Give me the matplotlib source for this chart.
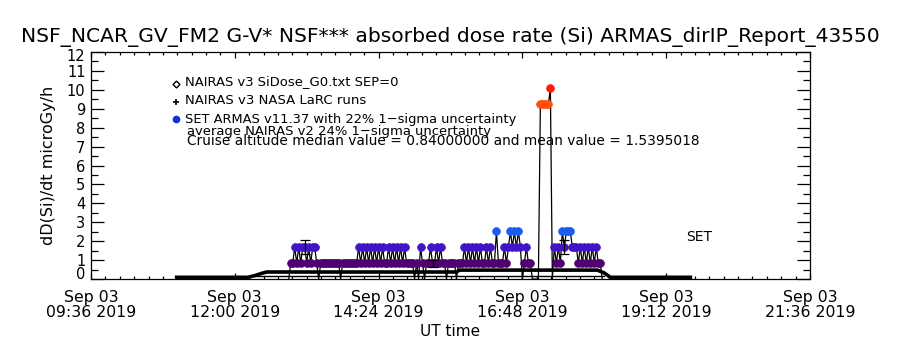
import matplotlib
matplotlib.use("Agg")
import matplotlib.pyplot as plt
from matplotlib.transforms import ScaledTranslation
from datetime import datetime, timedelta

# ---------------- data ----------------
title = "NSF_NCAR_GV_FM2 G-V* NSF*** absorbed dose rate (Si) ARMAS_dirIP_Report_43550"
x_start = "2019-09-03 09:36"
x_end = "2019-09-03 21:36"
xtick_times = ["09:36", "12:00", "14:24", "16:48", "19:12", "21:36"]
ytick_values = [0, 1, 2, 3, 4, 5, 6, 7, 8, 9, 10, 11, 12]

# ARMAS samples: first sample time and cadence (minutes)
armas_first = "2019-09-03 12:54"
armas_cadence_min = 2
armas_values = [
    0, 0.84, 0.84, 1.68, 0.84, 1.68, 0.84, 1.68, 1.68, 0.84,
    1.68, 0.84, 1.68, 1.68, 0.84, 0, 0.84, 0.84, 0.84, 0.84,
    0.84, 0.84, 0.84, 0.84, 0.84, 0.84, 0, 0.84, 0.84, 0.84,
    0.84, 0.84, 0.84, 0.84, 0.84, 1.68, 0.84, 1.68, 0.84, 1.68,
    0.84, 1.68, 0.84, 1.68, 0.84, 1.68, 0.84, 1.68, 0.84, 0.84,
    1.68, 0.84, 1.68, 0.84, 1.68, 0.84, 1.68, 0.84, 1.68, 0.84,
    0.84, 0.84, 0.84, 0, 0.84, 0, 1.68, 0.84, 0, 0.84,
    0.84, 1.68, 0.84, 0.84, 1.68, 0.84, 1.68, 0.84, 0.84, 0,
    0.84, 0.84, 0.84, 0.84, 0, 0.84, 0.84, 0.84, 1.68, 0.84,
    1.68, 0.84, 1.68, 0.84, 1.68, 0.84, 1.68, 0.84, 0.84, 1.68,
    0.84, 1.68, 0.84, 0.84, 2.52, 0.84, 0.84, 0.84, 1.68, 0.84,
    1.68, 2.52, 1.68, 2.52, 1.68, 2.52, 1.68, 0, 0.84, 1.68,
    0.84, 0.84, 0, 0, 0, 0, 9.24, 9.24, 9.24, 9.24,
    9.24, 10.08, 0, 1.68, 0.84, 1.68, 0.84, 2.52, 1.68, 2.52,
    2.52, 2.52, 1.68, 1.68, 1.68, 0.84, 1.68, 0.84, 1.68, 0.84,
    1.68, 0.84, 1.68, 0.84, 1.68, 0.84, 0.84, 0,
]
armas_levels = [0.84, 1.68, 2.52, 9.24, 10.08]
armas_level_colors = ["#500070", "#4214C8", "#1A5CF0", "#FF5010", "#FF1A00"]

# error bars shown on a few ARMAS points (22% 1-sigma)
err_times = ["13:10", "15:18", "17:30"]
err_values = [1.68, 0.84, 1.68]
err_frac = 0.22

# NAIRAS v3 SiDose_G0 model along the flight
nairas_times = ["11:00", "12:13", "12:20", "12:27", "12:32", "15:42", "15:45",
                "18:03", "18:10", "18:16", "19:38"]
nairas_values = [0.09, 0.09, 0.18, 0.30, 0.37, 0.37, 0.47, 0.47, 0.32, 0.09, 0.09]

# NASA LaRC runs
larc_times = ["12:20", "18:10"]
larc_values = [0.18, 0.18]

legend_lines = [
    "NAIRAS v3 SiDose_G0.txt SEP=0",
    "NAIRAS v3 NASA LaRC runs",
    "SET ARMAS v11.37 with 22% 1\u2212sigma uncertainty",
    "average NAIRAS v2 24% 1\u2212sigma uncertainty",
    "Cruise altitude median value = 0.84000000 and mean value = 1.5395018",
]

# ---------------- helpers ----------------
DAY = "2019-09-03 "
def tt(s):
    return datetime.strptime(DAY + s, "%Y-%m-%d %H:%M")

t0 = datetime.strptime(armas_first, "%Y-%m-%d %H:%M")
armas_t = [t0 + timedelta(minutes=armas_cadence_min * i) for i in range(len(armas_values))]

W, H = 900, 350
fig = plt.figure(figsize=(9, 3.5), dpi=100)
L, R, T, B = 91, 810, 52, 279
ax = fig.add_axes([L / W, 1 - B / H, (R - L) / W, (B - T) / H])

xmin = datetime.strptime(x_start, "%Y-%m-%d %H:%M")
xmax = datetime.strptime(x_end, "%Y-%m-%d %H:%M")
ax.set_xlim(xmin, xmax)
ax.set_ylim(0, 12)

FONT = "DejaVu Sans"

# NAIRAS
ax.plot([tt(s) for s in nairas_times], nairas_values, color="black", lw=2.6,
        solid_capstyle="butt", zorder=2)
ax.plot([tt(s) for s in larc_times], larc_values, color="black", lw=1.0, zorder=2)

# ARMAS line
ax.plot(armas_t, armas_values, color="black", lw=0.9, zorder=3)
for lev, col in zip(armas_levels, armas_level_colors):
    xs = [t for t, v in zip(armas_t, armas_values) if v == lev]
    ys = [v for v in armas_values if v == lev]
    ax.plot(xs, ys, ls="none", marker="o", ms=5.6, mfc=col, mec=col, mew=0.5, zorder=4)

# error bars
ax.errorbar([tt(s) for s in err_times], err_values,
            yerr=[v * err_frac for v in err_values], fmt="none",
            ecolor="black", elinewidth=0.9, capsize=3.5, capthick=0.9, zorder=5)

# axes styling
for sp in ax.spines.values():
    sp.set_linewidth(0.9)
ax.set_yticks(ytick_values)
ax.set_yticks([v + 0.5 for v in ytick_values[:-1]], minor=True)
ax.set_yticklabels([str(v) for v in ytick_values], fontsize=10.5, family=FONT)
xt = [tt(s) for s in xtick_times]
ax.set_xticks(xt)
minor = [xmin + timedelta(minutes=14.4 * i) for i in range(51)]
ax.set_xticks(minor, minor=True)
ax.set_xticklabels(["Sep 03\n" + s + " 2019" for s in xtick_times], fontsize=11.3,
                   family=FONT, linespacing=1.0)
ax.tick_params(axis="y", which="major", direction="in", length=9.4, width=0.9,
               left=True, right=True, pad=4)
ax.tick_params(axis="y", which="minor", direction="in", length=5, width=0.9,
               left=True, right=True)
ax.tick_params(axis="x", which="major", direction="in", length=4.3, width=0.9,
               bottom=True, top=True, pad=8)
ax.tick_params(axis="x", which="minor", direction="in", length=2.2, width=0.9,
               bottom=True, top=True)

ax.set_ylabel("dD(Si)/dt microGy/h", family=FONT, fontsize=11.5, labelpad=8)
ax.set_xlabel("UT time", family=FONT, fontsize=11, labelpad=3)

tt_title = fig.text(450 / W, 1 - 37 / H, title, ha="center", va="center",
                    family=FONT, fontsize=14)

# legend (manual, as in the original)
leg_y = [82, 100, 120, 131, 141]
leg_x = [185, 185, 185, 187, 187]
leg_w = [213, 181, 330, 303, 510]
leg_texts = []
for s, x, y in zip(legend_lines, leg_x, leg_y):
    leg_texts.append(fig.text(x / W, 1 - y / H, s, ha="left", va="center",
                              family=FONT, fontsize=10))
# legend symbols
fig.lines.append(plt.Line2D([176 / W], [1 - 84 / H], transform=fig.transFigure,
                            marker="D", ms=3.5, mfc="white", mec="black", mew=1, ls="none"))
fig.lines.append(plt.Line2D([176 / W], [1 - 102 / H], transform=fig.transFigure,
                            marker="+", ms=5, mec="black", mew=1.2, ls="none"))
fig.lines.append(plt.Line2D([176 / W], [1 - 119 / H], transform=fig.transFigure,
                            marker="o", ms=4.5, mfc="#1030E0", mec="#1030E0", ls="none"))

fig.text(699 / W, 1 - 237 / H, "SET", ha="center", va="center", family=FONT,
         fontsize=10)

# fit text widths to the reference
fig.canvas.draw()
r = fig.canvas.get_renderer()
def fit(t, width_px):
    bb = t.get_window_extent(r)
    t.set_fontsize(t.get_fontsize() * width_px / bb.width)
fit(tt_title, 860)
for t, w in zip(leg_texts, leg_w):
    fit(t, w)

# small nudges of end labels like the original
ticks = ax.yaxis.get_major_ticks()
ticks[0].label1.set_transform(ticks[0].label1.get_transform() +
                              ScaledTranslation(0, 6 / 100, fig.dpi_scale_trans))
ticks[-1].label1.set_transform(ticks[-1].label1.get_transform() +
                               ScaledTranslation(0, -3 / 100, fig.dpi_scale_trans))

fig.savefig("out.png", dpi=100)
